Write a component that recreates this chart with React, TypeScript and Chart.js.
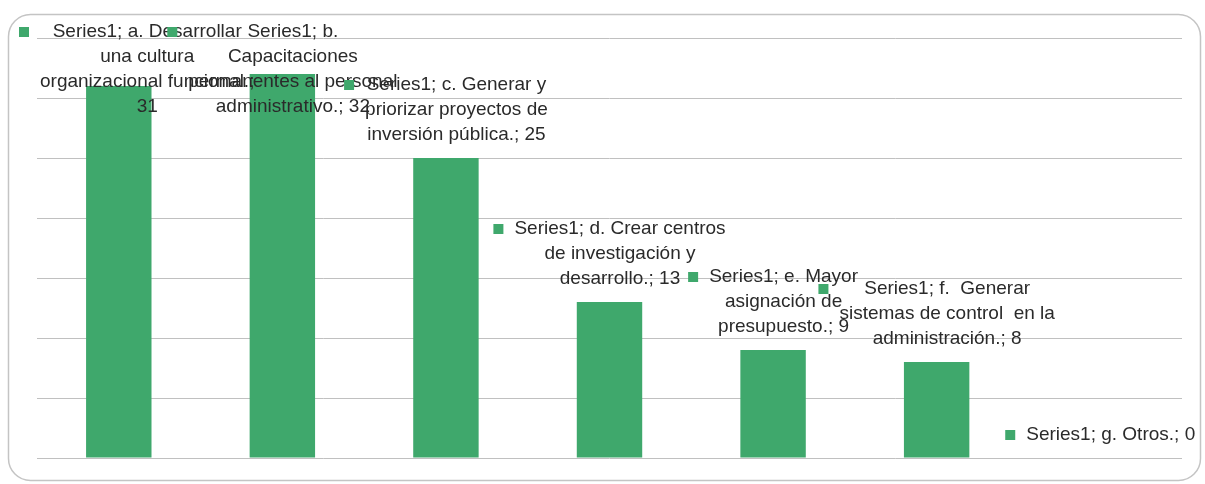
import React, { useEffect, useRef } from "react";
import { Chart, registerables } from "chart.js";

Chart.register(...registerables);

const seriesName = "Series1";
const categories = [
  "a. Desarrollar una cultura organizacional funcional.",
  "b. Capacitaciones permanentes al personal administrativo.",
  "c. Generar y priorizar proyectos de inversión pública.",
  "d. Crear centros de investigación y desarrollo.",
  "e. Mayor asignación de presupuesto.",
  "f.  Generar sistemas de control  en la administración.",
  "g. Otros.",
];
const values = [31, 32, 25, 13, 9, 8, 0];
// data labels as wrapped in the original ("Series; Category; Value")
const labelLines = [
  ["Series1; a. Desarrollar", "una cultura", "organizacional funcional.;", "31"],
  ["Series1; b.", "Capacitaciones", "permanentes al personal", "administrativo.; 32"],
  ["Series1; c. Generar y", "priorizar proyectos de", "inversión pública.; 25"],
  ["Series1; d. Crear centros", "de investigación y", "desarrollo.; 13"],
  ["Series1; e. Mayor", "asignación de", "presupuesto.; 9"],
  ["Series1; f.  Generar", "sistemas de control  en la", "administración.; 8"],
  ["Series1; g. Otros.; 0"],
];
const yMin = 0;
const yMax = 35;
const yStep = 5;

const GREEN = "#3fa86c";
const TEXT = "#2a2a2a";
const FONT = '19px "Liberation Sans", Arial, sans-serif';

const framePlugin = {
  id: "frame",
  beforeDraw(chart: any) {
    const ctx = chart.ctx;
    ctx.save();
    ctx.fillStyle = "#ffffff";
    ctx.fillRect(0, 0, chart.width, chart.height);
    ctx.strokeStyle = "#c4c4c4";
    ctx.lineWidth = 1.5;
    ctx.beginPath();
    (ctx as any).roundRect(8.5, 14.5, 1192, 466, 22);
    ctx.stroke();
    ctx.restore();
  },
};

const labelPlugin = {
  id: "excelLabels",
  afterDatasetsDraw(chart: any) {
    const ctx = chart.ctx;
    const meta = chart.getDatasetMeta(0);
    const lineH = 25;
    const keySize = 10;
    const keyOffset = 21;
    const keys: { x: number; y: number }[] = [];
    ctx.save();
    ctx.font = FONT;
    ctx.textBaseline = "middle";
    ctx.textAlign = "center";
    ctx.fillStyle = TEXT;
    meta.data.forEach((bar: any, i: number) => {
      const lines = labelLines[i];
      const w = Math.max(...lines.map((l) => ctx.measureText(l).width));
      const boxW = keyOffset + w;
      let left = bar.x - boxW / 2;
      left = Math.max(19, Math.min(left, 1202 - boxW));
      let firstY = bar.y - 23 - (lines.length - 1) * lineH;
      firstY = Math.max(32, firstY);
      const cx = left + keyOffset + w / 2;
      lines.forEach((l, k) => {
        ctx.fillText(l, cx, firstY + k * lineH);
      });
      keys.push({ x: left, y: firstY });
    });
    ctx.fillStyle = GREEN;
    keys.forEach((k) => {
      ctx.fillRect(k.x, k.y - keySize / 2, keySize, keySize);
    });
    ctx.restore();
  },
};

export default function App() {
  const ref = useRef<HTMLCanvasElement | null>(null);
  useEffect(() => {
    if (!ref.current) return;
    const chart = new Chart(ref.current, {
      type: "bar",
      data: {
        labels: categories,
        datasets: [
          {
            label: seriesName,
            data: values,
            backgroundColor: GREEN,
            borderWidth: 0,
            barPercentage: 0.4,
            categoryPercentage: 1,
          },
        ],
      },
      options: {
        responsive: false,
        animation: false,
        layout: { padding: { left: 37, right: 23, top: 38, bottom: 26 } },
        plugins: {
          legend: { display: false },
          tooltip: { enabled: false },
          title: { display: false },
        },
        scales: {
          x: { display: false, offset: true },
          y: {
            min: yMin,
            max: yMax,
            ticks: { display: false, stepSize: yStep },
            grid: { color: "#c0c0c0", lineWidth: 1, drawTicks: false },
            border: { display: false },
          },
        },
      },
      plugins: [framePlugin, labelPlugin],
    });
    return () => chart.destroy();
  }, []);
  return (
    <div style={{ position: "absolute", left: 0, top: 0, width: 1205, height: 484 }}>
      <canvas ref={ref} width={1205} height={484} />
    </div>
  );
}
